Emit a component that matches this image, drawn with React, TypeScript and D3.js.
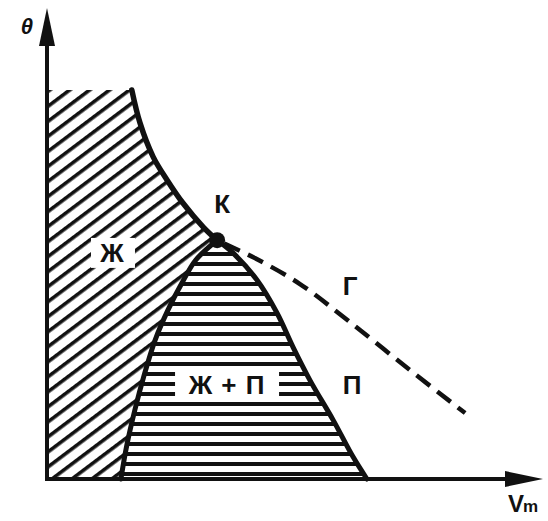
import React from "react";
import * as d3 from "d3";

// Phase diagram: temperature θ vs molar volume V_m (arbitrary units 0..100)
const liquidBoundaryV = [17.1, 18.75, 21.4, 24.2, 27.4, 31.5, 34.3];
const liquidBoundaryT = [82.6, 75.6, 68.4, 63.5, 58.6, 53.5, 50.7];

const binodalLeftV = [34.3, 30.0, 27.2, 24.4, 21.8, 19.6, 17.7, 16.1, 14.9];
const binodalLeftT = [50.7, 46.5, 41.6, 35.9, 29.5, 22.1, 14.6, 7.2, 0];

const binodalRightV = [34.3, 37.5, 42.3, 46.4, 49.6, 53.0, 57.7, 61.7, 64.5];
const binodalRightT = [50.7, 48.0, 42.3, 35.2, 28.0, 21.0, 12.5, 4.7, 0];

const criticalIsochoreV = [34.3, 41.9, 51.0, 61.1, 73.2, 84.3];
const criticalIsochoreT = [50.7, 46.9, 41.4, 33.3, 23.1, 14.0];

const criticalPoint = { v: 34.3, t: 50.7 };

const regionLabels = ["К", "Ж", "Ж + П", "П", "Г"];
const regionLabelV = [35.3, 13.1, 36.3, 61.5, 61.1];
const regionLabelT = [58.4, 48.0, 20.0, 20.0, 41.0];

const axisLabelY = "θ";
const axisLabelX = "V";
const axisLabelXSub = "m";

const W = 548;
const H = 521;

export default function App() {
  const x = d3.scaleLinear().domain([0, 100]).range([47, 543]);
  const y = d3.scaleLinear().domain([0, 100]).range([479, 8]);

  const zip = (vs: number[], ts: number[]) => vs.map((v, i) => [v, ts[i]] as [number, number]);
  const top = zip(liquidBoundaryV, liquidBoundaryT);
  const left = zip(binodalLeftV, binodalLeftT);
  const right = zip(binodalRightV, binodalRightT);
  const iso = zip(criticalIsochoreV, criticalIsochoreT);

  const line = d3
    .line<[number, number]>()
    .x((d) => x(d[0]))
    .y((d) => y(d[1]))
    .curve(d3.curveCatmullRom.alpha(0.5));
  const seg = (pts: [number, number][]) => (line(pts) || "").replace(/^M/, "L");

  const liquidRegion =
    `M${x(0)},${y(top[0][1])}` + seg(top) + seg(left) + `L${x(0)},${y(0)}Z`;
  const twoPhaseRegion = (line(right) || "") + seg(left.slice().reverse()) + "Z";

  const font = "'Liberation Sans', Arial, sans-serif";
  const [x0, x1] = x.range();
  const [y0, y1] = y.range();

  return (
    <svg
      width={W}
      height={H}
      viewBox={`0 0 ${W} ${H}`}
      style={{ position: "absolute", left: 0, top: 0, display: "block", background: "#fff" }}
    >
      <defs>
        <pattern
          id="diag"
          patternUnits="userSpaceOnUse"
          width={10}
          height={12}
          patternTransform="rotate(-37)"
        >
          <rect x={0} y={4} width={10} height={3.6} fill="#111" />
        </pattern>
        <pattern id="horiz" patternUnits="userSpaceOnUse" width={10} height={10} y={y0}>
          <rect x={0} y={3} width={10} height={4} fill="#111" />
        </pattern>
      </defs>

      <rect x={0} y={0} width={W} height={H} fill="#fff" />

      {/* hatched regions */}
      <path d={liquidRegion} fill="url(#diag)" />
      <path d={twoPhaseRegion} fill="url(#horiz)" />

      {/* label clearings */}
      <rect x={x(regionLabelV[1]) - 21} y={y(regionLabelT[1]) - 15} width={44} height={30} fill="#fff" />
      <rect x={x(regionLabelV[2]) - 52} y={y(regionLabelT[2]) - 18} width={104} height={35} fill="#fff" />

      {/* curves */}
      <path d={line(top) || ""} fill="none" stroke="#111" strokeWidth={5.5} strokeLinecap="round" />
      <path d={line(left) || ""} fill="none" stroke="#111" strokeWidth={5} strokeLinecap="round" />
      <path d={line(right) || ""} fill="none" stroke="#111" strokeWidth={5} strokeLinecap="round" />
      <path
        d={line(iso) || ""}
        fill="none"
        stroke="#111"
        strokeWidth={4.5}
        strokeDasharray="17 9"
        strokeDashoffset={-8}
      />
      <circle cx={x(criticalPoint.v)} cy={y(criticalPoint.t)} r={8} fill="#111" />

      {/* axes */}
      <line x1={x0} y1={y0 + 2} x2={x0} y2={y1 + 30} stroke="#111" strokeWidth={4} />
      <polygon
        points={`${x0},${y1} ${x0 - 8},${y1 + 38} ${x0 + 8},${y1 + 38}`}
        fill="#111"
      />
      <line x1={x0 - 2} y1={y0} x2={x1 - 30} y2={y0} stroke="#111" strokeWidth={4} />
      <polygon
        points={`${x1},${y0} ${x1 - 38},${y0 - 8} ${x1 - 38},${y0 + 8}`}
        fill="#111"
      />

      {/* axis labels */}
      <text
        x={27}
        y={34}
        fontFamily={font}
        fontSize={22}
        fontStyle="italic"
        fontWeight="bold"
        textAnchor="middle"
        fill="#111"
      >
        {axisLabelY}
      </text>
      <text x={508} y={512} fontFamily={font} fontSize={24} fontWeight="bold" fill="#111">
        {axisLabelX}
        <tspan fontSize={17} dx={-1}>
          {axisLabelXSub}
        </tspan>
      </text>

      {/* region labels */}
      {regionLabels.map((lab, i) => (
        <text
          key={i}
          x={x(regionLabelV[i])}
          y={y(regionLabelT[i])}
          dy="0.36em"
          fontFamily={font}
          fontSize={26}
          fontWeight="bold"
          textAnchor="middle"
          letterSpacing={lab.length > 1 ? 1 : 0}
          fill="#111"
        >
          {lab}
        </text>
      ))}
    </svg>
  );
}
